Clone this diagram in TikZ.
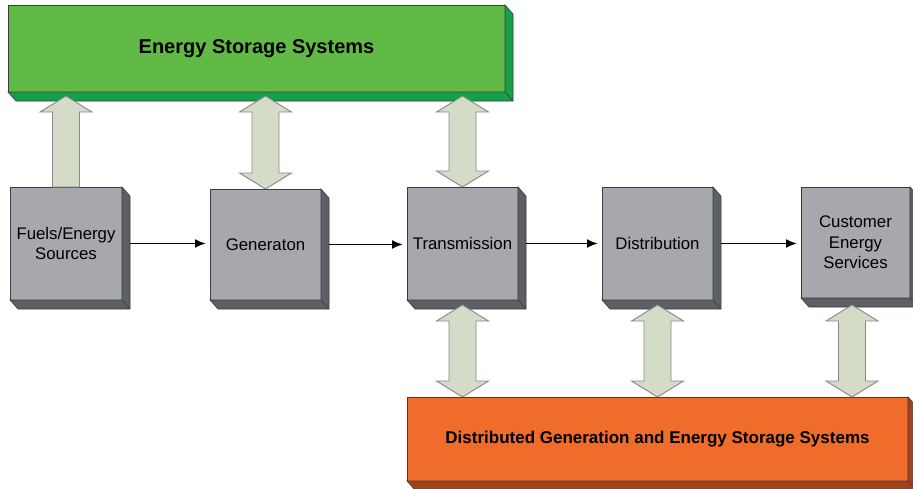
\documentclass[tikz,border=0pt]{standalone}
\usepackage{fontspec}
\setmainfont{Liberation Sans}
\usetikzlibrary{calc,arrows.meta}
\definecolor{essgreen}{RGB}{98,186,70}
\definecolor{essside}{RGB}{20,160,72}
\definecolor{unitgray}{RGB}{166,168,173}
\definecolor{unitside}{RGB}{92,95,100}
\definecolor{dgorange}{RGB}{240,108,42}
\definecolor{dgside}{RGB}{160,66,28}
\definecolor{arrowfill}{RGB}{212,220,200}
\definecolor{arrowline}{RGB}{135,135,135}
\definecolor{slabline}{RGB}{60,60,60}
\tikzset{
  slab/.style={draw=slabline, line width=0.7pt, inner sep=0pt, outer sep=0pt,
    align=center, text=black},
  unit/.style={slab, fill=unitgray, minimum width=111pt, minimum height=113pt,
    font=\fontsize{16.8}{20.5}\selectfont},
  band/.style={slab, font=\bfseries\fontsize{17}{20}\selectfont},
  flow/.style={-{Latex[length=11pt,width=9pt]}, line width=1.9pt, shorten >=4pt},
  blockarrow/.style={draw=arrowline, fill=arrowfill, line width=0.9pt}
}
% extruded right and bottom faces of a box
\newcommand{\slabdepth}[2]{%
  \filldraw[fill=#2, draw=slabline, line width=0.6pt]
    (#1.north east) -- ([shift={(8,9)}]#1.north east) -- ([shift={(8,9)}]#1.south east)
    -- ([shift={(8,9)}]#1.south west) -- (#1.south west) -- (#1.south east) -- cycle;
  \draw[slabline, line width=0.6pt] (#1.south east) -- ([shift={(8,9)}]#1.south east);}
% double headed block arrow, #1 upper tip, #2 lower tip
\newcommand{\twoway}[2]{%
  \filldraw[blockarrow] (#1) -- ++(26,16) -- ++(-12.5,0) -- ($(#2)+(13.5,-16)$)
    -- ++(12.5,0) -- (#2) -- ++(-26,-16) -- ++(12.5,0) -- ($(#1)+(-13.5,16)$)
    -- ++(-12.5,0) -- cycle;}

\begin{document}
\begin{tikzpicture}[x=1pt,y=-1pt]
\useasboundingbox (0,0) rectangle (913,488);

%storage bands
\node[band, fill=essgreen, minimum width=497pt, minimum height=87pt, font=\bfseries\fontsize{20}{24}\selectfont] (ess) at (256.5,48.5) {Energy Storage Systems};
\slabdepth{ess}{essside}
\node[band, fill=dgorange, minimum width=501pt, minimum height=84pt] (dg) at (657.5,439) {Distributed Generation and Energy Storage Systems};
\slabdepth{dg}{dgside}

%supply chain
\node[unit, minimum width=112pt] (fuel) at (66,243.5) {Fuels/Energy\\Sources};
\node[unit, minimum height=111pt] (gen) at (265.5,244.5) {Generaton};
\node[unit] (trans) at (462.5,243.5) {Transmission};
\node[unit] (dist) at (657.5,243.5) {Distribution};
\node[unit, minimum width=109pt, minimum height=111pt] (cust) at (855.5,242.5) {Customer\\Energy\\Services};
\foreach \u in {fuel,gen,trans,dist,cust}
  \slabdepth{\u}{unitside};

%flow
\draw[flow] ([xshift=8pt]fuel.east) -- (fuel.east -| gen.west);
\draw[flow] ([xshift=8pt]gen.east) -- (gen.east -| trans.west);
\draw[flow] ([xshift=8pt]trans.east) -- (trans.east -| dist.west);
\draw[flow] ([xshift=8pt]dist.east) -- (dist.east -| cust.west);

%exchange arrows
\coordinate (upper) at (0,96);
\coordinate (lower) at (0,305);
\coordinate (custport) at (852,298);
\filldraw[blockarrow] (fuel.north |- upper) -- ++(26,16) -- ++(-12.5,0)
  -- ($(fuel.north)+(13.5,0)$) -- ($(fuel.north)+(-13.5,0)$)
  -- ($(fuel.north |- upper)+(-13.5,16)$) -- ++(-12.5,0) -- cycle;
\twoway{gen.north |- upper}{gen.north}
\twoway{trans.north |- upper}{trans.north}
\twoway{trans.south |- lower}{trans.south |- dg.north}
\twoway{dist.south |- lower}{dist.south |- dg.north}
\twoway{custport |- lower}{custport |- dg.north}

\end{tikzpicture}
\end{document}
